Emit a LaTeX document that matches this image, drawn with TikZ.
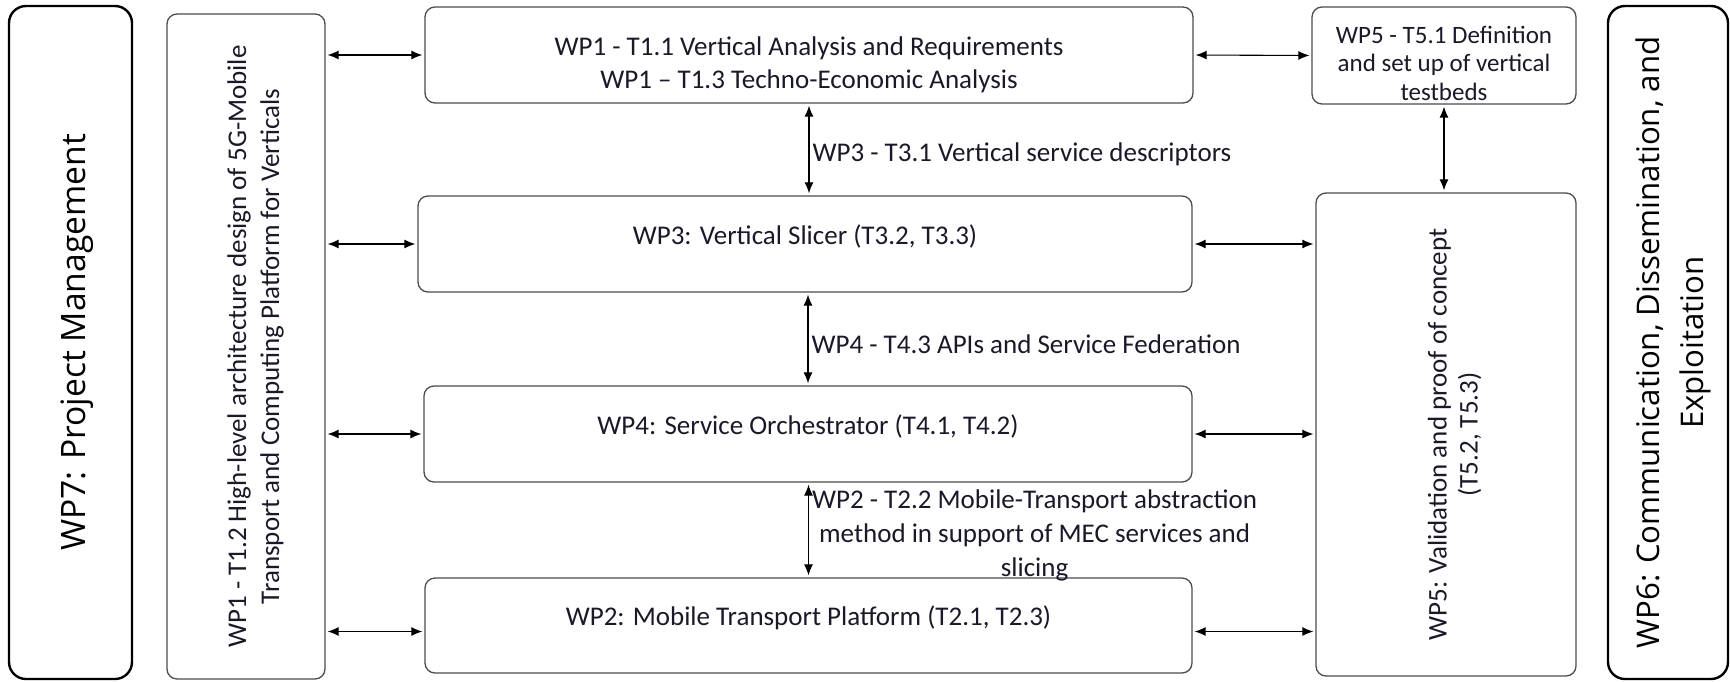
\documentclass[tikz,border=0pt]{standalone}
\usepackage{fontspec}
\setmainfont{Carlito}
\newfontfamily\wpsans{Open Sans}
\usetikzlibrary{arrows.meta}

\definecolor{wpink}{RGB}{25,25,40}

\tikzset{
    wpbox/.style = {draw=black!70, line width=0.65pt, rounded corners=5pt, align=center,
        inner sep=0pt, text=wpink, font=\fontsize{13.5}{16.5}\selectfont},
    wpside/.style = {draw=black, line width=1.2pt, rounded corners=8.5pt, align=center,
        inner sep=0pt, rotate=90},
    oneline/.style = {text height=5pt, text depth=5pt},
    link/.style = {<->, >={Latex[length=5.5pt,width=4.5pt]}, line width=0.55pt,
        shorten <=1pt, shorten >=1pt},
    linklabel/.style = {right, yshift=-2.5pt, inner sep=1.5pt, align=center, text=wpink,
        font=\fontsize{13.5}{17}\selectfont}
}

\begin{document}
\begin{tikzpicture}[x=0.5pt, y=-0.5pt]
    \useasboundingbox (0,0) rectangle (1730,681);

    \node[wpside, minimum width=336.5pt, minimum height=61.5pt, text height=15pt, text depth=0.5pt,
        font=\wpsans\fontsize{16.8}{20}\selectfont] (wp7) at (70.5,342.5) {WP7: Project Management};
    \node[wpbox, rotate=90, minimum width=332.5pt, minimum height=79pt, text height=34pt, text depth=1pt]
        (wp12) at (246,346.5) {WP1 - T1.2 High-level architecture design of 5G-Mobile\\Transport and Computing Platform for Verticals};

    \node[wpbox, minimum width=384pt, minimum height=48pt, text height=35pt, text depth=2pt]
        (wp11) at (809,55) {WP1 - T1.1 Vertical Analysis and Requirements\\WP1 – T1.3 Techno-Economic Analysis};
    \node[wpbox, minimum width=132pt, minimum height=48.5pt, text height=46pt, text depth=1.5pt,
        font=\fontsize{12.5}{14.25}\selectfont] (wp51) at (1444,55.5) {WP5 - T5.1 Definition\\and set up of vertical\\testbeds};
    \node[wpbox, oneline, minimum width=387pt, minimum height=48pt] (wp3) at (805,244) {WP3: Vertical Slicer (T3.2, T3.3)};
    \node[wpbox, oneline, minimum width=384pt, minimum height=48pt] (wp4) at (808,434) {WP4: Service Orchestrator (T4.1, T4.2)};
    \node[wpbox, oneline, minimum width=383.5pt, minimum height=47.5pt] (wp2) at (808.5,625.5) {WP2: Mobile Transport Platform (T2.1, T2.3)};

    \node[wpbox, rotate=90, minimum width=241.5pt, minimum height=130pt, text height=33pt, text depth=1.5pt,
        font=\fontsize{13.5}{15.5}\selectfont] (wp5) at (1446,434.5) {WP5: Validation and proof of concept\\(T5.2, T5.3)};
    \node[wpside, minimum width=336.5pt, minimum height=60pt, text height=36pt, text depth=1pt,
        font=\wpsans\fontsize{15.6}{22}\selectfont] (wp6) at (1668,342.5) {WP6: Communication, Dissemination, and\\Exploitation};

    \coordinate (wp2l) at ([yshift=-3pt]wp2.west);
    \coordinate (wp2r) at ([yshift=-3pt]wp2.east);

    \draw[link] (wp12.south |- wp11.west) -- (wp11.west);
    \draw[link] (wp12.south |- wp3.west) -- (wp3.west);
    \draw[link] (wp12.south |- wp4.west) -- (wp4.west);
    \draw[link] (wp12.south |- wp2l) -- (wp2l);

    \draw[link] (wp11.east) -- (wp51.west);
    \draw[link] (wp3.east) -- (wp5.north |- wp3.east);
    \draw[link] (wp4.east) -- (wp5.north |- wp4.east);
    \draw[link] (wp2r) -- (wp5.north |- wp2r);
    \draw[link] (wp51.south) -- (wp51.south |- wp5.east);

    \draw[link] (wp11.south) -- node[linklabel] (lbl31) {WP3 - T3.1 Vertical service descriptors} (wp11.south |- wp3.north);
    \draw[link] (wp4.north |- wp3.south) -- node[linklabel] (lbl43) {WP4 - T4.3 APIs and Service Federation} (wp4.north);
    \draw[link] (wp2.north |- wp4.south) -- node[linklabel] (lbl22) {WP2 - T2.2 Mobile-Transport abstraction\\method in support of MEC services and\\slicing} (wp2.north);
\end{tikzpicture}
\end{document}
